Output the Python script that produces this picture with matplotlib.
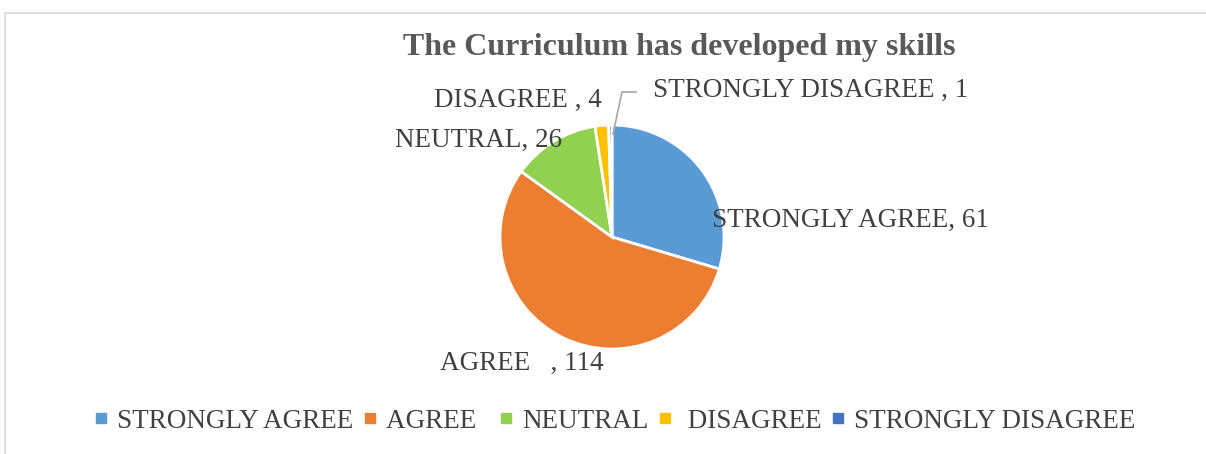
import numpy as np
import matplotlib.pyplot as plt
from matplotlib.lines import Line2D

# ------------------------------------------------------------
# Data
# ------------------------------------------------------------
categories = ['STRONGLY AGREE', 'AGREE  ', 'NEUTRAL', ' DISAGREE', 'STRONGLY DISAGREE']
values = [61, 114, 26, 4, 1]
label_texts = ['STRONGLY AGREE, 61', 'AGREE   , 114', 'NEUTRAL, 26',
               'DISAGREE , 4', 'STRONGLY DISAGREE , 1']
colors = ['#5B9BD5', '#ED7D31', '#92D050', '#FFC000', '#4472C4']
title = 'The Curriculum has developed my skills'

plt.rcParams['font.family'] = ['Liberation Serif', 'DejaVu Serif']

W, H = 1206, 454
fig = plt.figure(figsize=(W / 100, H / 100), dpi=100)

# light frame (top and left edges visible in the reference)
fig.add_artist(Line2D([5 / W, 1], [1 - 13 / H, 1 - 13 / H], color='#d9d9d9', lw=1.2))
fig.add_artist(Line2D([5 / W, 5 / W], [1 - 13 / H, 0], color='#d9d9d9', lw=1.2))

# pie axes: centre (612, 237) px, radius 112 px
cx, cy, r = 612, 237, 112
ax = fig.add_axes([(cx - r) / W, (H - cy - r) / H, 2 * r / W, 2 * r / H])
wedges, _ = ax.pie(values, colors=colors, startangle=90, counterclock=False,
                   wedgeprops=dict(edgecolor='white', linewidth=2))
ax.set_xlim(-1, 1)
ax.set_ylim(-1, 1)
ax.set_aspect('equal')
ax.axis('off')

fig.text(679 / W, 1 - 48 / H, title, ha='center', va='center',
         fontsize=23, fontweight='bold', color='#595959')

# data labels (pixel positions: left x, centre y)
label_pos = [(712, 220), (440, 363), (395, 140), (434, 100), (653, 90)]
for txt, (lx, ly) in zip(label_texts, label_pos):
    fig.text(lx / W, 1 - ly / H, txt, ha='left', va='center',
             fontsize=19.5, color='#404040')

# leader line for the smallest slice
lx = np.array([613, 622, 636]) / W
ly = 1 - np.array([134, 92, 92]) / H
fig.add_artist(Line2D(lx, ly, color='#a6a6a6', lw=1.2))

# legend
handles = [Line2D([], [], marker='s', linestyle='none', markersize=6.5,
                  markerfacecolor=c, markeredgecolor=c) for c in colors]
fig.legend(handles, categories, loc='center', bbox_to_anchor=(616 / W, 1 - 421 / H),
           ncol=5, frameon=False, fontsize=19.5, handlelength=0.35, handletextpad=0.4,
           columnspacing=0.45, labelcolor='#404040')

fig.savefig('out.png', dpi=100)
